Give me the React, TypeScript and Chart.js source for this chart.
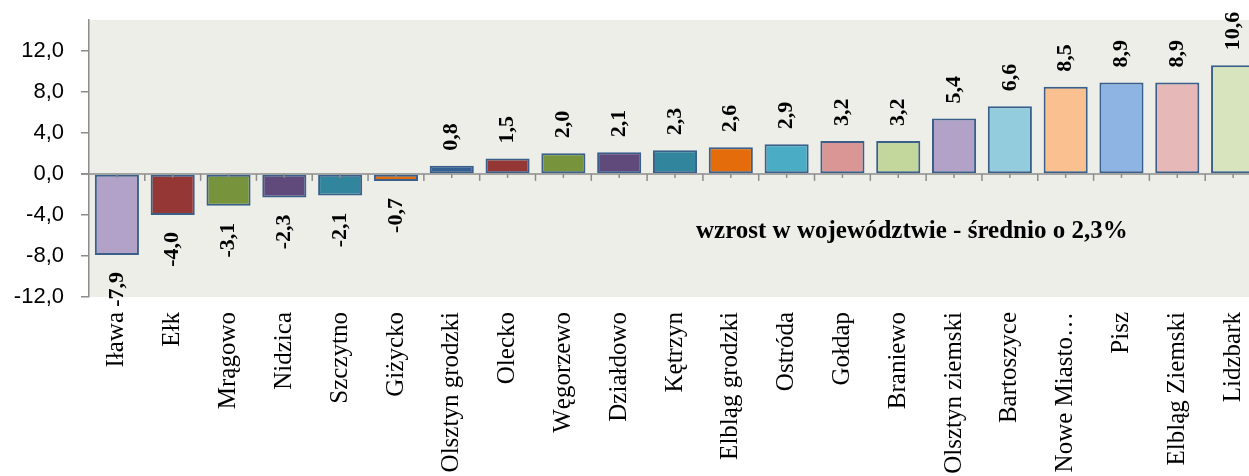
import React, { useEffect, useRef } from "react";
import { Chart, registerables } from "chart.js";

Chart.register(...registerables);

const categories = [
  "Iława", "Ełk", "Mrągowo", "Nidzica", "Szczytno", "Giżycko",
  "Olsztyn grodzki", "Olecko", "Węgorzewo", "Działdowo", "Kętrzyn",
  "Elbląg grodzki", "Ostróda", "Gołdap", "Braniewo", "Olsztyn ziemski",
  "Bartoszyce", "Nowe Miasto…", "Pisz", "Elbląg Ziemski", "Lidzbark",
];

const values = [
  -7.9, -4.0, -3.1, -2.3, -2.1, -0.7, 0.8, 1.5, 2.0, 2.1, 2.3,
  2.6, 2.9, 3.2, 3.2, 5.4, 6.6, 8.5, 8.9, 8.9, 10.6,
];

const barColors = [
  "#B3A2C7", "#953735", "#77933C", "#604A7B", "#31859C", "#E46C0A",
  "#376092", "#953735", "#77933C", "#604A7B", "#31859C", "#E46C0A",
  "#4BACC6", "#D99694", "#C3D69B", "#B3A2C7", "#93CDDD", "#FAC090",
  "#8EB4E3", "#E6B9B8", "#D7E4BD",
];

const yMin = -12;
const yMax = 15;
const yStep = 4;
const yLastTick = 12;

const noteText = "wzrost w województwie - średnio o 2,3%";
const noteValue = -5.6;

const fmt = (v: number) => Number(v).toFixed(1).replace(".", ",");

export default function App() {
  const ref = useRef<HTMLCanvasElement>(null);

  useEffect(() => {
    if (!ref.current) return;

    const bgPlugin = {
      id: "plotBg",
      beforeDraw(chart: any) {
        const { ctx, chartArea: a } = chart;
        ctx.save();
        ctx.fillStyle = "#ECEEE7";
        ctx.fillRect(a.left, a.top, a.right - a.left, a.bottom - a.top);
        ctx.restore();
      },
    };

    const overlayPlugin = {
      id: "overlay",
      afterDatasetsDraw(chart: any) {
        const { ctx, chartArea: a } = chart;
        const xs = chart.scales.x;
        const ys = chart.scales.y;
        const y0 = ys.getPixelForValue(0);
        const step = xs.getPixelForValue(1) - xs.getPixelForValue(0);
        ctx.save();
        ctx.strokeStyle = "#8C8C8C";
        ctx.lineWidth = 1.5;
        ctx.beginPath();
        ctx.moveTo(a.left - 8, y0);
        ctx.lineTo(a.right, y0);
        ctx.stroke();
        for (let i = 0; i < categories.length; i++) {
          const c = xs.getPixelForValue(i);
          ctx.beginPath();
          ctx.moveTo(c + step / 2, y0);
          ctx.lineTo(c + step / 2, y0 + 7);
          ctx.stroke();
          ctx.beginPath();
          ctx.moveTo(c, y0);
          ctx.lineTo(c, y0 + 4);
          ctx.stroke();
        }
        ctx.restore();

        ctx.save();
        ctx.fillStyle = "#000";
        ctx.font = 'bold 22px "Liberation Serif", serif';
        const meta = chart.getDatasetMeta(0);
        meta.data.forEach((bar: any, i: number) => {
          const v = values[i];
          ctx.save();
          ctx.translate(bar.x, v >= 0 ? bar.y - 15 : bar.y + 17);
          ctx.rotate(-Math.PI / 2);
          ctx.textAlign = v >= 0 ? "left" : "right";
          ctx.textBaseline = "middle";
          ctx.fillText(fmt(v), 0, 0);
          ctx.restore();
        });
        ctx.font = 'bold 25px "Liberation Serif", serif';
        ctx.textAlign = "left";
        ctx.textBaseline = "middle";
        ctx.fillText(noteText, a.left + 607, ys.getPixelForValue(noteValue));
        ctx.restore();
      },
    };

    const chart = new Chart(ref.current, {
      type: "bar",
      data: {
        labels: categories,
        datasets: [
          {
            data: values,
            backgroundColor: barColors,
            borderColor: "#3A5F8B",
            borderWidth: 2,
            borderSkipped: false,
            categoryPercentage: 1,
            barPercentage: 0.79,
          },
        ],
      },
      options: {
        responsive: false,
        animation: false,
        layout: { padding: { top: 20, left: 0, right: 0, bottom: 0 } },
        plugins: { legend: { display: false }, tooltip: { enabled: false } },
        scales: {
          x: {
            offset: true,
            grid: { display: false, drawTicks: false },
            border: { display: false },
            ticks: {
              autoSkip: false,
              maxRotation: 90,
              minRotation: 90,
              padding: 15,
              color: "#000",
              font: { family: '"Liberation Serif", serif', size: 25 },
            },
            afterFit: (s: any) => {
              s.height = 179;
              s.paddingLeft = 0;
              s.paddingRight = 0;
            },
          },
          y: {
            min: yMin,
            max: yMax,
            bounds: "data",
            border: { display: true, color: "#8C8C8C", width: 1.5 },
            grid: {
              drawOnChartArea: false,
              drawTicks: true,
              tickLength: 8,
              color: "#8C8C8C",
              lineWidth: 1.5,
            },
            ticks: {
              stepSize: yStep,
              padding: 17,
              color: "#000",
              font: { family: '"Liberation Sans", sans-serif', size: 22 },
              callback: (v: any) => fmt(v),
            },
            afterBuildTicks: (s: any) => {
              s.ticks = s.ticks.filter((t: any) => t.value <= yLastTick);
            },
            afterFit: (s: any) => {
              s.width = 89;
              s.paddingTop = 0;
              s.paddingBottom = 0;
            },
          },
        },
      },
      plugins: [bgPlugin, overlayPlugin],
    } as any);

    return () => chart.destroy();
  }, []);

  return (
    <div
      style={{
        position: "fixed",
        left: 0,
        top: 0,
        width: 1249,
        height: 476,
        overflow: "hidden",
        background: "#fff",
      }}
    >
      <canvas ref={ref} width={1261} height={476} style={{ display: "block" }} />
    </div>
  );
}
